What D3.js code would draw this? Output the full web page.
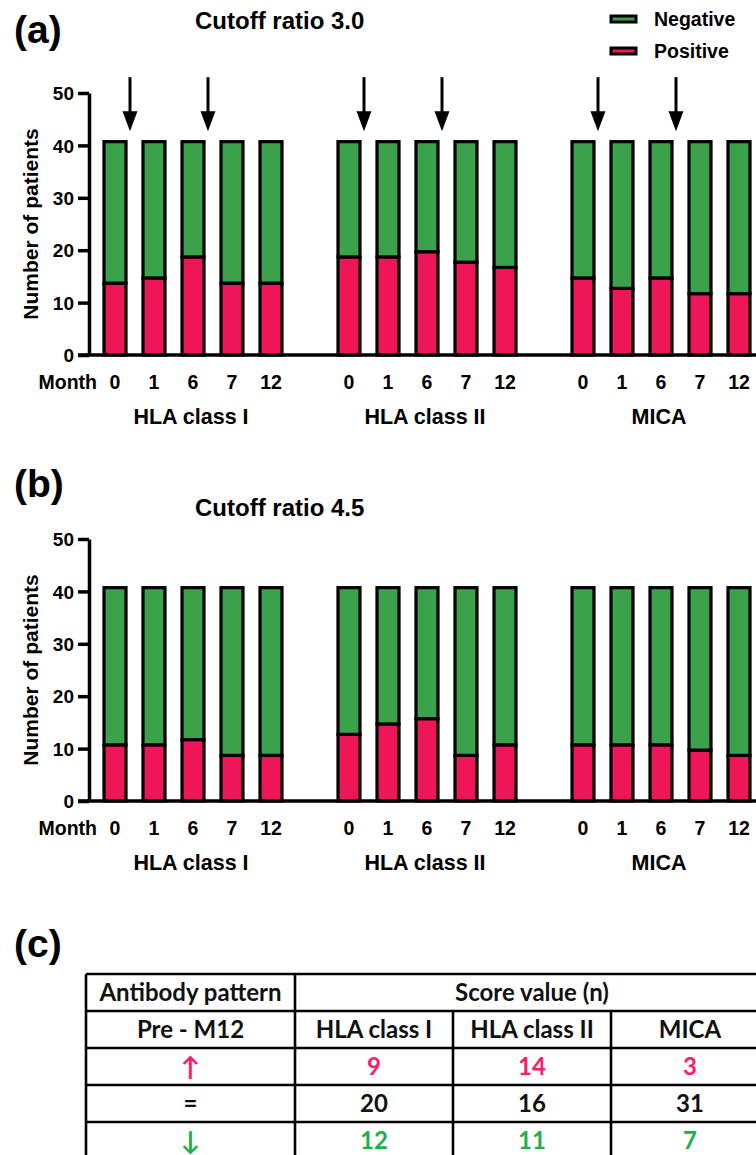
<!DOCTYPE html>
<html>
<head>
<meta charset="utf-8">
<script src="https://cdn.jsdelivr.net/npm/d3@7"></script>
<style>
  body { margin: 0; background: #fff; }
  svg text { font-family: "Liberation Sans", Arial, sans-serif; font-weight: bold; }
  .tbl text { font-family: Lato, "Open Sans", sans-serif; font-weight: bold; }
</style>
</head>
<body>
<script>
// data
var groups = ['HLA class I', 'HLA class II', 'MICA'];
var months = ['0', '1', '6', '7', '12'];
var posA = [[14, 15, 19, 14, 14], [19, 19, 20, 18, 17], [15, 13, 15, 12, 12]];
var negA = [[27, 26, 22, 27, 27], [22, 22, 21, 23, 24], [26, 28, 26, 29, 29]];
var posB = [[11, 11, 12, 9, 9], [13, 15, 16, 9, 11], [11, 11, 11, 10, 9]];
var negB = [[30, 30, 29, 32, 32], [28, 26, 25, 32, 30], [30, 30, 30, 31, 32]];
var arrowMonths = ['0', '6'];
var yTicks = [0, 10, 20, 30, 40, 50];

var tableHead = ['Pre - M12', 'HLA class I', 'HLA class II', 'MICA'];
var tableRows = [
  ['\u2191', '9', '14', '3'],
  ['=', '20', '16', '31'],
  ['\u2193', '12', '11', '7']
];
var rowColors = ['#ff1c6b', '#111', '#1fb04c'];

var green = '#3ca14b', pink = '#ee1659';

var svg = d3.select('body').append('svg')
  .attr('width', 756).attr('height', 1155);

var xGroup = d3.scaleBand().domain(groups).range([95.5, 758.5])
  .paddingInner(1 / 6).paddingOuter(0);
var xMonth = d3.scaleBand().domain(months).range([0, xGroup.bandwidth()])
  .paddingInner(0.436).paddingOuter(0.218);

function barX(g, m) { return xGroup(g) + xMonth(m); }

function drawPanel(top, letter, letterY, title, titleY, pos, neg, arrows) {
  var y = d3.scaleLinear().domain([0, 50]).range([top + 262, top]);
  var p = svg.append('g');

  p.append('text').attr('x', 14).attr('y', letterY)
    .style('font-size', '39px').text(letter);
  p.append('text').attr('x', 195).attr('y', titleY)
    .style('font-size', '24px').text(title);

  var rows = [];
  groups.forEach(function (g, gi) {
    months.forEach(function (m, mi) {
      rows.push({ g: g, m: m, Positive: pos[gi][mi], Negative: neg[gi][mi] });
    });
  });
  var series = d3.stack().keys(['Positive', 'Negative'])(rows);
  var color = d3.scaleOrdinal().domain(['Positive', 'Negative']).range([pink, green]);

  p.selectAll('g.ser').data(series).enter().append('g')
    .attr('fill', function (d) { return color(d.key); })
    .selectAll('rect').data(function (d) { return d; }).enter().append('rect')
    .attr('x', function (d) { return barX(d.data.g, d.data.m); })
    .attr('width', xMonth.bandwidth())
    .attr('y', function (d) { return y(d[1]) + 1.5; })
    .attr('height', function (d) { return y(d[0]) - y(d[1]) - (d[0] === 0 ? 1.5 : 0); })
    .attr('stroke', '#000').attr('stroke-width', 3.2);

  // x axis line
  p.append('line').attr('x1', 78).attr('x2', 760)
    .attr('y1', y(0)).attr('y2', y(0))
    .attr('stroke', '#000').attr('stroke-width', 3.5);

  var yAxis = p.append('g').attr('transform', 'translate(89,0)')
    .call(d3.axisLeft(y).tickValues(yTicks).tickSize(11).tickSizeOuter(0).tickPadding(4));
  yAxis.select('.domain').attr('stroke-width', 3.5);
  yAxis.selectAll('.tick line').attr('stroke-width', 3.5);
  yAxis.selectAll('.tick text').style('font-size', '19px').attr('fill', '#000')
    .attr('dy', '0.35em');

  p.append('text')
    .attr('transform', 'translate(38,' + (y(25)) + ') rotate(-90)')
    .attr('text-anchor', 'middle').style('font-size', '21px')
    .text('Number of patients');

  // month labels
  var lblY = y(0) + 33.5;
  p.append('text').attr('x', 97).attr('y', lblY).attr('text-anchor', 'end')
    .style('font-size', '19.5px').text('Month');
  p.selectAll('text.mon').data(rows).enter().append('text')
    .attr('class', 'mon')
    .attr('x', function (d) { return barX(d.g, d.m) + xMonth.bandwidth() / 2; })
    .attr('y', lblY).attr('text-anchor', 'middle')
    .style('font-size', '19.5px')
    .text(function (d) { return d.m; });

  p.selectAll('text.grp').data(groups).enter().append('text')
    .attr('class', 'grp')
    .attr('x', function (d) { return xGroup(d) + xGroup.bandwidth() / 2 - 2; })
    .attr('y', y(0) + 68.5).attr('text-anchor', 'middle')
    .style('font-size', '21.5px')
    .text(function (d) { return d; });

  if (arrows) {
    var arr = [];
    groups.forEach(function (g) {
      arrows.forEach(function (m) { arr.push({ g: g, m: m }); });
    });
    var tipY = y(41) - 9;
    var a = p.selectAll('g.arrow').data(arr).enter().append('g')
      .attr('transform', function (d) {
        return 'translate(' + (barX(d.g, d.m) + xMonth.bandwidth() + 4) + ',' + tipY + ')';
      });
    a.append('line').attr('x1', 0).attr('x2', 0).attr('y1', -54).attr('y2', -14)
      .attr('stroke', '#000').attr('stroke-width', 3);
    a.append('path').attr('d', 'M-7.5,-20L7.5,-20L0,0Z').attr('fill', '#000');
  }
  return y;
}

drawPanel(93, '(a)', 43, 'Cutoff ratio 3.0', 29, posA, negA, arrowMonths);
drawPanel(539, '(b)', 497, 'Cutoff ratio 4.5', 516, posB, negB, null);

// legend
var legend = svg.append('g');
[['Negative', green], ['Positive', pink]].forEach(function (d, i) {
  legend.append('rect').attr('x', 611).attr('y', 16 + i * 32).attr('width', 25).attr('height', 6)
    .attr('fill', d[1]).attr('stroke', '#000').attr('stroke-width', 3);
  legend.append('text').attr('x', 654).attr('y', 26 + i * 32)
    .style('font-size', '19.5px').text(d[0]);
});

// panel (c) table
svg.append('text').attr('x', 14).attr('y', 957).style('font-size', '39px').text('(c)');

var colX = [86, 295, 453, 611, 769];
var rowY = [974, 1011, 1048, 1085, 1122, 1159];
var tbl = svg.append('g').attr('class', 'tbl');
var lineW = 2.6;

rowY.forEach(function (yy) {
  tbl.append('line').attr('x1', colX[0]).attr('x2', colX[4]).attr('y1', yy).attr('y2', yy)
    .attr('stroke', '#000').attr('stroke-width', lineW);
});
colX.forEach(function (xx, i) {
  tbl.append('line').attr('x1', xx).attr('x2', xx)
    .attr('y1', (i === 2 || i === 3) ? rowY[1] : rowY[0]).attr('y2', rowY[5])
    .attr('stroke', '#000').attr('stroke-width', lineW);
});

function cell(txt, c0, c1, r, col, size) {
  tbl.append('text').attr('x', (colX[c0] + colX[c1]) / 2).attr('y', (rowY[r] + rowY[r + 1]) / 2)
    .attr('dy', '0.36em').attr('text-anchor', 'middle')
    .attr('fill', col || '#111').style('font-size', (size || 24) + 'px').text(txt);
}
cell('Antibody pattern', 0, 1, 0);
cell('Score value (n)', 1, 4, 0);
tableHead.forEach(function (h, i) { cell(h, i, i + 1, 1); });
tableRows.forEach(function (row, ri) {
  row.forEach(function (v, ci) {
    cell(v, ci, ci + 1, ri + 2, rowColors[ri], ci === 0 && v !== '=' ? 26 : 24);
  });
});
</script>
</body>
</html>
